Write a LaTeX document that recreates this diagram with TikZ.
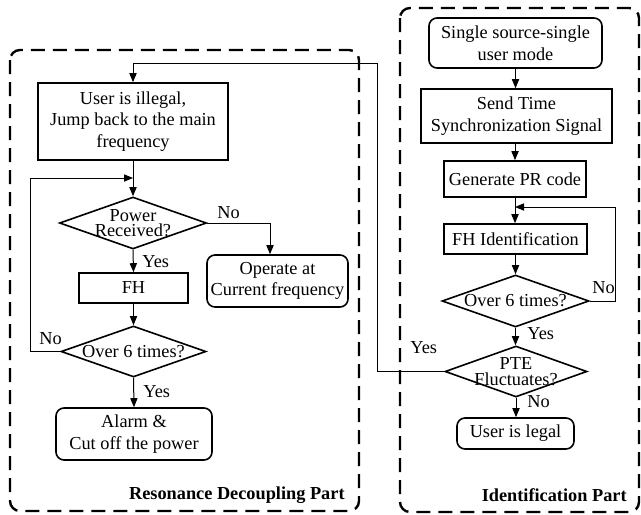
\documentclass[tikz,border=0pt]{standalone}
\usepackage{fontspec}
\setmainfont{Liberation Serif}
\usetikzlibrary{shapes.geometric,arrows.meta}

% tight two-line text inside the decision diamonds
\newcommand{\diafont}{\fontsize{9.15}{7.7}\selectfont\lineskiplimit=-10pt\relax}

\tikzset{
  txt/.style={font=\fontsize{9.15}{10.85}\selectfont},
  base/.style={txt, draw, line width=0.8pt, align=center, inner sep=0pt},
  proc/.style={base, rectangle},
  term/.style={base, rectangle, rounded corners=4pt},
  dec/.style={base, diamond},
  dtext/.style={font=\diafont, align=center, inner sep=0pt},
  ln/.style={line width=0.5pt},
  arr/.style={ln, -{Triangle[length=4.5pt,width=3.6pt]}},
  part/.style={draw, line width=1.2pt, dash pattern=on 7pt off 4pt, rounded corners=5pt},
  tag/.style={txt, inner sep=0pt, anchor=base west},
  heading/.style={font=\fontsize{9.15}{10.85}\selectfont\bfseries, inner sep=0pt, anchor=base east}
}

\begin{document}
\begin{tikzpicture}[x=0.5pt, y=-0.5pt]
\useasboundingbox (0,0) rectangle (641,514);

% dashed frames of the two parts
\draw[part] (10,50) rectangle (359,511);
\draw[part] (400,8) rectangle (639,512);
\node[heading] (lefttitle) at (345,499) {Resonance Decoupling Part};
\node[heading] (righttitle) at (627,501) {Identification Part};

% ---- resonance decoupling part ----
\node[proc, minimum width=95pt, minimum height=38.5pt] (ill) at (133,121.5)
  {User is illegal,\\Jump back to the main\\frequency};
\node[dec, minimum width=73.5pt, minimum height=26pt] (pow) at (133,223) {};
\node[dtext] (powt) at (pow.center) {Power\\Received?};
\node[term, minimum width=70.5pt, minimum height=26pt] (op) at (277.5,281)
  {Operate at\\Current frequency};
\node[proc, minimum width=54.5pt, minimum height=15pt] (fh) at (133.5,288) {FH};
\node[dec, minimum width=72.5pt, minimum height=25.5pt] (ov1) at (133.5,351.5) {};
\node[dtext] (ov1t) at (ov1.center) {Over 6 times?};
\node[term, minimum width=78pt, minimum height=26pt] (alarm) at (134,434)
  {Alarm \&\\Cut off the power};

\draw[arr] (ill.south) -- (pow.north);
\draw[arr] (pow.south) -- (fh.north);
\draw[arr] (fh.south) -- (ov1.north);
\draw[arr] (ov1.south) -- (alarm.north);
\draw[arr] (pow.east) -| ([xshift=-3.75pt]op.north);
\coordinate (cL) at (30,178);
\draw[ln] (ov1.west) -| (cL);
\draw[arr] (cL) -- (ill.south |- cL);

\node[tag] (y1) at (142,267) {Yes};
\node[tag] (n1) at (217,218) {No};
\node[tag] (n2) at (39,344) {No};
\node[tag] (y2) at (143,397) {Yes};

% ---- identification part ----
\node[term, minimum width=86.5pt, minimum height=25pt] (ss) at (515.5,43)
  {Single source-single\\user mode};
\node[proc, minimum width=95.5pt, minimum height=27pt] (st) at (516.5,116)
  {Send Time\\Synchronization Signal};
\node[proc, minimum width=71pt, minimum height=18pt] (gp) at (515,179) {Generate PR code};
\node[proc, minimum width=71.5pt, minimum height=15pt] (fhi) at (515.5,239) {FH Identification};
\node[dec, minimum width=73.5pt, minimum height=26pt] (ov2) at (515.5,301) {};
\node[dtext] (ov2t) at (ov2.center) {Over 6 times?};
\node[dec, minimum width=71pt, minimum height=25.5pt] (pte) at (516,371.5) {};
\node[dtext] (ptet) at (pte.center) {PTE\\Fluctuates?};
\node[term, minimum width=58.5pt, minimum height=15.5pt] (legal) at (515.5,433.5) {User is legal};

\draw[arr] (ss.south) -- (ss.south |- st.north);
\draw[arr] (st.south -| gp.north) -- (gp.north);
\draw[arr] (gp.south) -- (gp.south |- fhi.north);
\draw[arr] (fhi.south) -- (fhi.south |- ov2.north);
\draw[arr] (ov2.south) -- (ov2.south |- pte.north);
\draw[arr] (pte.south) -- (pte.south |- legal.north);
\coordinate (cR) at (615,207);
\draw[ln] (ov2.east) -| (cR);
\draw[arr] (cR) -- (gp.south |- cR);

\node[tag] (n3) at (592,293) {No};
\node[tag] (y3) at (527,339) {Yes};
\node[tag] (y4) at (410,353) {Yes};
\node[tag] (n4) at (527,407) {No};

% illegal user returns to the main frequency
\coordinate (cA) at (377,63);
\draw[arr] (pte.west) -| (cA) -| (ill.north);
\end{tikzpicture}
\end{document}
